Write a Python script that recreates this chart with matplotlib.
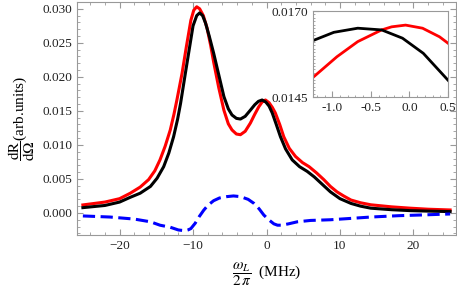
import numpy as np
import matplotlib
matplotlib.use('Agg')
import matplotlib.pyplot as plt
from matplotlib.ticker import MultipleLocator, FormatStrFormatter

# font settings (Times-like, like the reference)
plt.rcParams['font.family'] = ['Liberation Serif', 'DejaVu Serif']
plt.rcParams['mathtext.fontset'] = 'stix'

# data
x_black = [-25, -22, -20, -18.55, -17.2, -15.8, -14.9, -14.0, -13.3, -12.65, -12.1, -11.7,
           -11.05, -10.6, -10.0, -9.5, -9.1, -8.7, -8.3, -7.8, -7.2, -6.5, -5.8, -5.2, -4.7,
           -4.1, -3.55, -2.9, -2.2, -1.6, -1.1, -0.6, -0.1, 0.35, 0.78, 1.3, 1.9, 2.6, 3.5,
           4.5, 5.55, 6.5, 7.4, 8.7, 10, 11.5, 12.8, 14.2, 17, 19.6, 22, 25]
y_black = [0.00078, 0.0011, 0.0016, 0.0023, 0.0029, 0.0039, 0.0051, 0.0068, 0.0088, 0.0112,
           0.0138, 0.0161, 0.0205, 0.0235, 0.0275, 0.0290, 0.0294, 0.0290, 0.0279, 0.0260,
           0.0235, 0.0203, 0.0171, 0.0153, 0.0144, 0.0139, 0.0138, 0.0142, 0.0151, 0.0159,
           0.0164, 0.0166, 0.0163, 0.0157, 0.0147, 0.0131, 0.0112, 0.0094, 0.0078, 0.0068,
           0.0061, 0.0053, 0.0044, 0.0031, 0.0021, 0.0014, 0.0010, 0.0007, 0.00048, 0.00034,
           0.00027, 0.0002]

x_red = [-25, -22, -20, -18.55, -17.2, -16.05, -15.2, -14.5, -13.8, -13.1, -12.6, -12.2,
         -11.5, -10.9, -10.3, -9.9, -9.5, -9.1, -8.6, -8.1, -7.6, -7.2, -6.5, -5.8, -5.2,
         -4.7, -4.1, -3.55, -2.9, -2.2, -1.6, -1.05, -0.6, -0.14, 0.35, 0.8, 1.2, 1.8, 2.35,
         3.1, 3.95, 4.9, 5.8, 6.8, 7.8, 8.7, 9.6, 10.5, 11.5, 12.8, 14.2, 17, 19.6, 22, 25]
y_red = [0.00118, 0.0016, 0.0021, 0.0029, 0.0038, 0.0049, 0.0062, 0.0078, 0.0098, 0.0122,
         0.0145, 0.0166, 0.0205, 0.0245, 0.0283, 0.0298, 0.0303, 0.0300, 0.0290, 0.0272,
         0.0246, 0.0222, 0.0184, 0.0151, 0.0131, 0.0122, 0.0116, 0.0115, 0.0120, 0.0132,
         0.0145, 0.0156, 0.0163, 0.0166, 0.0162, 0.0155, 0.0147, 0.0130, 0.0112, 0.0095,
         0.0083, 0.0074, 0.0068, 0.0059, 0.0049, 0.0039, 0.0031, 0.0025, 0.0019, 0.0015,
         0.0012, 0.0009, 0.0007, 0.00055, 0.00044]

x_blue = [-25, -21.3, -18, -15.8, -14.5, -13.1, -12, -11.6, -11.05, -10.7, -10.3, -9.7,
          -9.2, -8.55, -8.0, -7.2, -6.4, -5.4, -4.5, -3.55, -2.5, -1.7, -1.0, -0.37, 0.3,
          1.0, 1.5, 2.0, 3.0, 4.2, 6, 8.7, 11.5, 14.2, 18, 21, 25]
y_blue = [-0.00044, -0.0006, -0.0009, -0.0013, -0.0018, -0.0021, -0.0025, -0.00255, -0.0026,
          -0.0025, -0.0023, -0.0015, -0.0006, 0.0004, 0.0011, 0.0018, 0.0022, 0.0024, 0.0025,
          0.0024, 0.0020, 0.0014, 0.0006, -0.0003, -0.0010, -0.0016, -0.0018, -0.0018,
          -0.0016, -0.0013, -0.0011, -0.0010, -0.0008, -0.0006, -0.0004, -0.0003, -0.00015]

# inset (zoom on second peak)
xi_black = [-1.25, -0.98, -0.67, -0.36, -0.09, 0.18, 0.52]
yi_black = [0.01614, 0.01638, 0.01650, 0.01645, 0.01621, 0.01577, 0.01494]
xi_red = [-1.25, -0.94, -0.67, -0.36, -0.23, -0.05, 0.17, 0.39, 0.52]
yi_red = [0.01507, 0.01567, 0.01611, 0.01645, 0.01654, 0.01659, 0.01650, 0.01625, 0.01603]

spine_col = '#999999'


def style_axes(ax):
    for s in ax.spines.values():
        s.set_color(spine_col)
        s.set_linewidth(0.8)
    ax.tick_params(which='both', direction='in', color=spine_col, top=True, right=True,
                   labelsize=9.5, labelcolor='#222222')
    ax.tick_params(which='major', length=4)
    ax.tick_params(which='minor', length=2)


fig = plt.figure(figsize=(4.57, 2.96), dpi=100)
ax = fig.add_axes([77 / 457, 61 / 296, 379 / 457, 233 / 296])

ax.plot(x_red, y_red, color='#ff0000', lw=2.2)
ax.plot(x_black, y_black, color='black', lw=2.2)
ax.plot(x_blue, y_blue, color='#0000ff', lw=2.2, ls=(0, (4, 1.8)))

ax.set_xlim(-25.8, 25.8)
ax.set_ylim(-0.00324, 0.0310)
ax.xaxis.set_major_locator(MultipleLocator(10))
ax.xaxis.set_minor_locator(MultipleLocator(2))
ax.yaxis.set_major_locator(MultipleLocator(0.005))
ax.yaxis.set_minor_locator(MultipleLocator(0.001))
ax.yaxis.set_major_formatter(FormatStrFormatter('%.3f'))
style_axes(ax)

ax.set_xlabel(r'$\dfrac{\omega_L}{2\,\pi}\ $ (MHz)', fontsize=11, labelpad=6)
ax.set_ylabel(r'$\dfrac{\mathrm{dR}}{\mathrm{d}\Omega}$(arb.units)', fontsize=11, labelpad=4)

# inset
axi = fig.add_axes([313 / 457, 199 / 296, 135 / 457, 86 / 296])
axi.plot(xi_red, yi_red, color='#ff0000', lw=2.0)
axi.plot(xi_black, yi_black, color='black', lw=2.0)
axi.set_xlim(-1.25, 0.5)
axi.set_ylim(0.0145, 0.0170)
axi.xaxis.set_major_locator(MultipleLocator(0.5))
axi.xaxis.set_minor_locator(MultipleLocator(0.1))
axi.set_yticks([0.0145, 0.0170])
axi.yaxis.set_minor_locator(MultipleLocator(0.0001))
axi.yaxis.set_major_formatter(FormatStrFormatter('%.4f'))
axi.xaxis.set_major_formatter(FormatStrFormatter('%.1f'))
style_axes(axi)
axi.tick_params(which='both', top=False, right=False)
axi.tick_params(which='minor', length=1.5)

fig.savefig('out.png', dpi=100)
